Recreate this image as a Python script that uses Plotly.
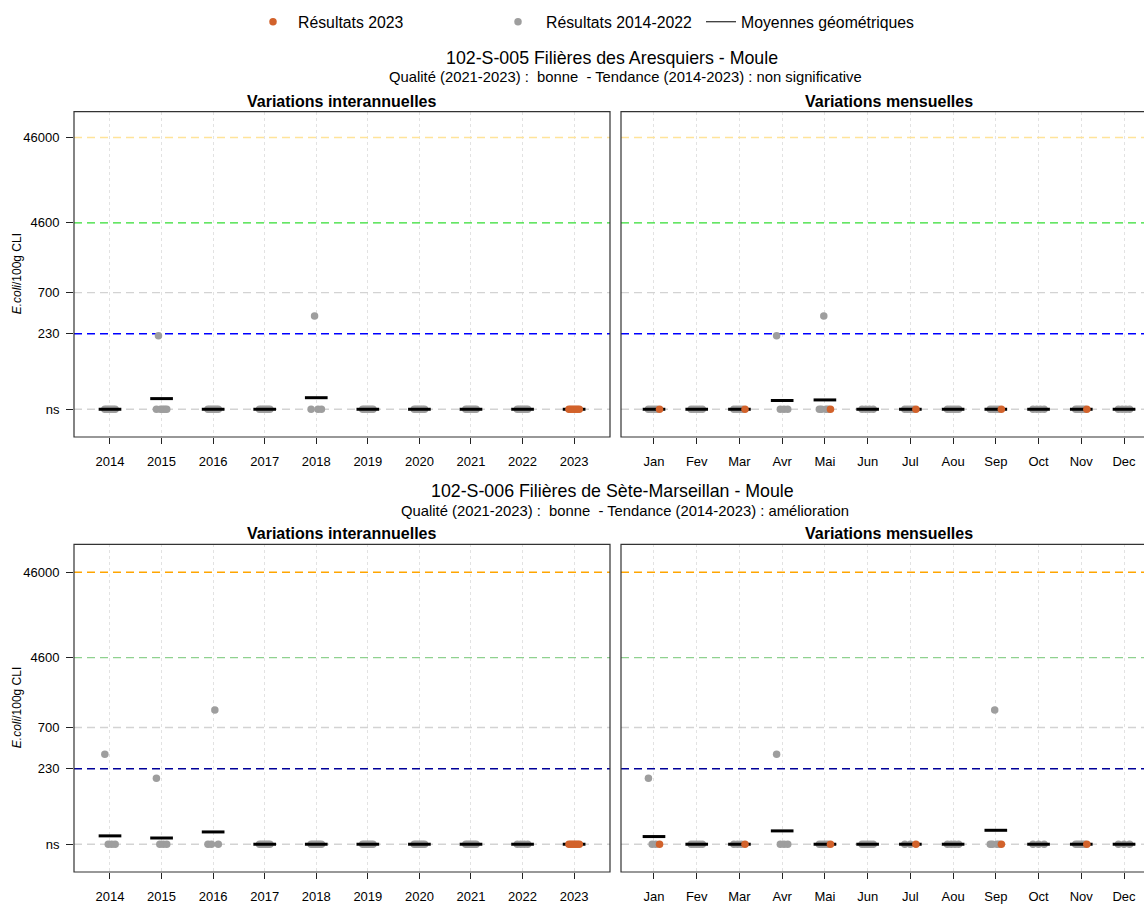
import numpy as np
import plotly.graph_objects as go

W, H = 1144, 904
FONT = "Liberation Sans, Arial, sans-serif"

# Plotting level used for results below the quantification limit ("ns")
NS = 30

years = [2014, 2015, 2016, 2017, 2018, 2019, 2020, 2021, 2022, 2023]
month_labels = ["Jan", "Fev", "Mar", "Avr", "Mai", "Jun", "Jul", "Aou", "Sep", "Oct", "Nov", "Dec"]
level_values = [NS, 230, 700, 4600, 46000]
level_labels = ["ns", "230", "700", "4600", "46000"]
current_year = 2023

# ---- 102-S-005 Filières des Aresquiers ----
s005_title = "102-S-005 Filières des Aresquiers - Moule"
s005_subtitle = "Qualité (2021-2023) :  bonne  - Tendance (2014-2023) : non significative"
s005_months = [
    [1, 3, 5, 7, 9, 11],     # 2014
    [2, 4, 6, 8, 10, 12],    # 2015
    [1, 3, 5, 7, 9, 11],     # 2016
    [2, 4, 6, 8, 10, 12],    # 2017
    [2, 5, 8, 11],           # 2018
    [1, 3, 5, 7, 9, 11],     # 2019
    [2, 4, 6, 8, 10, 12],    # 2020
    [1, 3, 5, 7, 9, 11],     # 2021
    [2, 4, 6, 8, 10, 12],    # 2022
    [1, 3, 5, 7, 9, 11],     # 2023
]
s005_results = [
    ["ns", "ns", "ns", "ns", "ns", "ns"],
    ["ns", 218, "ns", "ns", "ns", "ns"],
    ["ns", "ns", "ns", "ns", "ns", "ns"],
    ["ns", "ns", "ns", "ns", "ns", "ns"],
    ["ns", 373, "ns", "ns"],
    ["ns", "ns", "ns", "ns", "ns", "ns"],
    ["ns", "ns", "ns", "ns", "ns", "ns"],
    ["ns", "ns", "ns", "ns", "ns", "ns"],
    ["ns", "ns", "ns", "ns", "ns", "ns"],
    ["ns", "ns", "ns", "ns", "ns", "ns"],
]
s005_gmean_year = ["ns", 40.0, "ns", "ns", 41.0, "ns", "ns", "ns", "ns", "ns"]
s005_gmean_month = ["ns", "ns", "ns", 38.0, 38.6, "ns", "ns", "ns", "ns", "ns", "ns", "ns"]

# ---- 102-S-006 Filières de Sète-Marseillan ----
s006_title = "102-S-006 Filières de Sète-Marseillan - Moule"
s006_subtitle = "Qualité (2021-2023) :  bonne  - Tendance (2014-2023) : amélioration"
s006_months = [
    [4, 6, 9, 11],           # 2014
    [1, 3, 6, 9],            # 2015
    [2, 5, 9, 11],           # 2016
    [2, 4, 6, 8, 10, 12],    # 2017
    [1, 3, 5, 7, 9, 11],     # 2018
    [2, 4, 6, 8, 10, 12],    # 2019
    [1, 3, 5, 7, 9, 11],     # 2020
    [2, 4, 6, 8, 10, 12],    # 2021
    [2, 5, 8, 11],           # 2022
    [1, 3, 5, 7, 9, 11],     # 2023
]
s006_results = [
    [340, "ns", "ns", "ns"],
    [178, "ns", "ns", "ns"],
    ["ns", "ns", 1118, "ns"],
    ["ns", "ns", "ns", "ns", "ns", "ns"],
    ["ns", "ns", "ns", "ns", "ns", "ns"],
    ["ns", "ns", "ns", "ns", "ns", "ns"],
    ["ns", "ns", "ns", "ns", "ns", "ns"],
    ["ns", "ns", "ns", "ns", "ns", "ns"],
    ["ns", "ns", "ns", "ns"],
    ["ns", "ns", "ns", "ns", "ns", "ns"],
]
s006_gmean_year = [37.6, 35.5, 41.8, "ns", "ns", "ns", "ns", "ns", "ns", "ns"]
s006_gmean_month = [36.9, "ns", "ns", 43.0, "ns", "ns", "ns", "ns", 43.7, "ns", "ns", "ns"]

# Threshold line colours, in the order of level_values
s005_line_colors = ["#D3D3D3", "#0000FF", "#D3D3D3", "#33DD33", "#FFE49A"]
s006_line_colors = ["#D3D3D3", "#000099", "#D3D3D3", "#8FD18F", "#FFA500"]

GREY = "#9E9E9E"
ORANGE = "#D2622B"


def val(r):
    return NS if r == "ns" else r


def px_x(p):
    return p / W


def px_y(p):
    return 1 - p / H


def spread(n, half):
    if n == 1:
        return [0.0]
    return list(np.linspace(-half, half, n))


fig = go.Figure()

# panel geometry (pixels)
LEFT_X = (74, 610)
RIGHT_X = (621, 1144)
ROWS = [(111.7, 437.0), (544.3, 872.0)]
YEAR_RANGE = [-0.698, 9.696]
MONTH_RANGE = [-0.772, 11.468]
Y_RANGES = [[1.152, 4.966], [1.152, 4.99]]

sites = [
    (s005_title, s005_subtitle, s005_months, s005_results, s005_gmean_year, s005_gmean_month, s005_line_colors),
    (s006_title, s006_subtitle, s006_months, s006_results, s006_gmean_year, s006_gmean_month, s006_line_colors),
]

annotations = []
shapes = []

for row, (title, subtitle, months_by_year, results_by_year, gm_year, gm_month, lcolors) in enumerate(sites):
    xa_y, ya_y = ("x", "y") if row == 0 else ("x3", "y3")
    xa_m, ya_m = ("x2", "y2") if row == 0 else ("x4", "y4")

    samples = []
    for yi, (ms, rs) in enumerate(zip(months_by_year, results_by_year)):
        for m, r in zip(ms, rs):
            samples.append((yi, m - 1, val(r)))

    # strip positions within each category
    year_off = {}
    for yi in range(len(years)):
        idx = [k for k, s in enumerate(samples) if s[0] == yi]
        for k, o in zip(idx, spread(len(idx), 0.10)):
            year_off[k] = o
    month_off = {}
    for mi in range(12):
        idx = [k for k, s in enumerate(samples) if s[1] == mi]
        for k, o in zip(idx, spread(len(idx), 0.13)):
            month_off[k] = o

    for panel, (xa, ya, xr, ncat, offs, key, gm, hw) in enumerate([
        (xa_y, ya_y, YEAR_RANGE, len(years), year_off, 0, gm_year, 0.22),
        (xa_m, ya_m, MONTH_RANGE, 12, month_off, 1, gm_month, 0.265),
    ]):
        # threshold lines
        for lv, lc in zip(level_values, lcolors):
            fig.add_trace(go.Scatter(
                x=xr, y=[lv, lv], mode="lines", xaxis=xa, yaxis=ya,
                line=dict(color=lc, width=1.4, dash="8px,5px"),
                showlegend=False, hoverinfo="skip"))
        past = [k for k, s in enumerate(samples) if years[s[0]] != current_year]
        cur = [k for k, s in enumerate(samples) if years[s[0]] == current_year]
        fig.add_trace(go.Scatter(
            x=[samples[k][key] + offs[k] for k in past],
            y=[samples[k][2] for k in past],
            mode="markers", xaxis=xa, yaxis=ya,
            marker=dict(color=GREY, size=7.5, line=dict(width=0)),
            showlegend=False))
        # geometric means
        mx, my = [], []
        for i, g in enumerate(gm):
            mx += [i - hw, i + hw, None]
            my += [val(g), val(g), None]
        fig.add_trace(go.Scatter(
            x=mx, y=my, mode="lines", xaxis=xa, yaxis=ya,
            line=dict(color="black", width=3), showlegend=False))
        fig.add_trace(go.Scatter(
            x=[samples[k][key] + offs[k] for k in cur],
            y=[samples[k][2] for k in cur],
            mode="markers", xaxis=xa, yaxis=ya,
            marker=dict(color=ORANGE, size=7.5, line=dict(width=0)),
            showlegend=False))

    top, bottom = ROWS[row]
    # titles
    annotations += [
        dict(text=title, x=px_x(612), y=px_y(57.5 if row == 0 else 491), xref="paper", yref="paper",
             showarrow=False, font=dict(size=17.8, color="black"), xanchor="center", yanchor="middle"),
        dict(text=subtitle, x=px_x(625), y=px_y(77.5 if row == 0 else 511), xref="paper", yref="paper",
             showarrow=False, font=dict(size=14.8, color="black"), xanchor="center", yanchor="middle"),
        dict(text="<b>Variations interannuelles</b>", x=px_x(342), y=px_y(top - 10.5), xref="paper",
             yref="paper", showarrow=False, font=dict(size=16, color="black"), xanchor="center",
             yanchor="middle"),
        dict(text="<b>Variations mensuelles</b>", x=px_x(889), y=px_y(top - 10.5), xref="paper",
             yref="paper", showarrow=False, font=dict(size=16, color="black"), xanchor="center",
             yanchor="middle"),
        dict(text="<i>E.coli</i>/100g CLI", x=px_x(17), y=px_y((top + bottom) / 2), xref="paper",
             yref="paper", showarrow=False, textangle=-90, font=dict(size=12, color="black"),
             xanchor="center", yanchor="middle"),
    ]
    # panel frames
    shapes += [
        dict(type="rect", xref="paper", yref="paper", x0=px_x(LEFT_X[0]), x1=px_x(LEFT_X[1]),
             y0=px_y(bottom), y1=px_y(top), line=dict(color="#333333", width=1.2), layer="above"),
        dict(type="rect", xref="paper", yref="paper", x0=px_x(RIGHT_X[0]), x1=px_x(1170),
             y0=px_y(bottom), y1=px_y(top), line=dict(color="#333333", width=1.2), layer="above"),
    ]

# legend entries
fig.add_trace(go.Scatter(x=[None], y=[None], mode="markers", name="Résultats 2023",
                         marker=dict(color=ORANGE, size=7.5), legend="legend"))
fig.add_trace(go.Scatter(x=[None], y=[None], mode="markers", name="Résultats 2014-2022",
                         marker=dict(color=GREY, size=7.5), legend="legend2"))
fig.add_trace(go.Scatter(x=[None], y=[None], mode="lines", name="Moyennes géométriques",
                         line=dict(color="black", width=1), legend="legend3"))


def legend_at(px_left, itemwidth):
    return dict(x=px_x(px_left), xanchor="left", y=px_y(22), yanchor="middle", orientation="h",
                bgcolor="rgba(0,0,0,0)", font=dict(size=15.8, family=FONT, color="black"),
                itemwidth=itemwidth, borderwidth=0)


axis_common = dict(showline=False, zeroline=False, tickfont=dict(size=13, color="black", family=FONT),
                   ticks="outside", tickcolor="#222222", tickwidth=1.2)
xgrid = dict(showgrid=True, gridcolor="#E2E2E2", griddash="dot", gridwidth=1)

layout = dict(
    width=W, height=H, margin=dict(l=0, r=0, t=0, b=0),
    paper_bgcolor="white", plot_bgcolor="white",
    font=dict(family=FONT, color="black"),
    showlegend=True,
    legend=legend_at(248, 40), legend2=legend_at(490, 46), legend3=legend_at(701, 30),
    annotations=annotations, shapes=shapes,
)
for row in range(2):
    top, bottom = ROWS[row]
    ydom = [px_y(bottom), px_y(top)]
    xl = "xaxis" if row == 0 else "xaxis3"
    xr = "xaxis2" if row == 0 else "xaxis4"
    yl = "yaxis" if row == 0 else "yaxis3"
    yr = "yaxis2" if row == 0 else "yaxis4"
    ylab = "y" if row == 0 else "y3"
    yrab = "y2" if row == 0 else "y4"
    layout[xl] = dict(domain=[px_x(LEFT_X[0]), px_x(LEFT_X[1])], range=YEAR_RANGE, anchor=ylab,
                      tickmode="array", tickvals=list(range(len(years))), ticktext=[str(y) for y in years],
                      ticklen=6, ticklabelstandoff=6, **xgrid, **axis_common)
    layout[xr] = dict(domain=[px_x(RIGHT_X[0]), 1.0], range=MONTH_RANGE, anchor=yrab,
                      tickmode="array", tickvals=list(range(12)), ticktext=month_labels,
                      ticklen=6, ticklabelstandoff=6, **xgrid, **axis_common)
    layout[yl] = dict(domain=ydom, type="log", range=Y_RANGES[row], anchor="x" if row == 0 else "x3",
                      tickmode="array", tickvals=level_values, ticktext=level_labels,
                      ticklen=7, ticklabelstandoff=4, showgrid=False, **axis_common)
    layout[yr] = dict(domain=ydom, type="log", range=Y_RANGES[row], anchor="x2" if row == 0 else "x4",
                      showticklabels=False, showgrid=False, zeroline=False, showline=False, ticks="")

fig.update_layout(**layout)
fig.write_html("out.html")
